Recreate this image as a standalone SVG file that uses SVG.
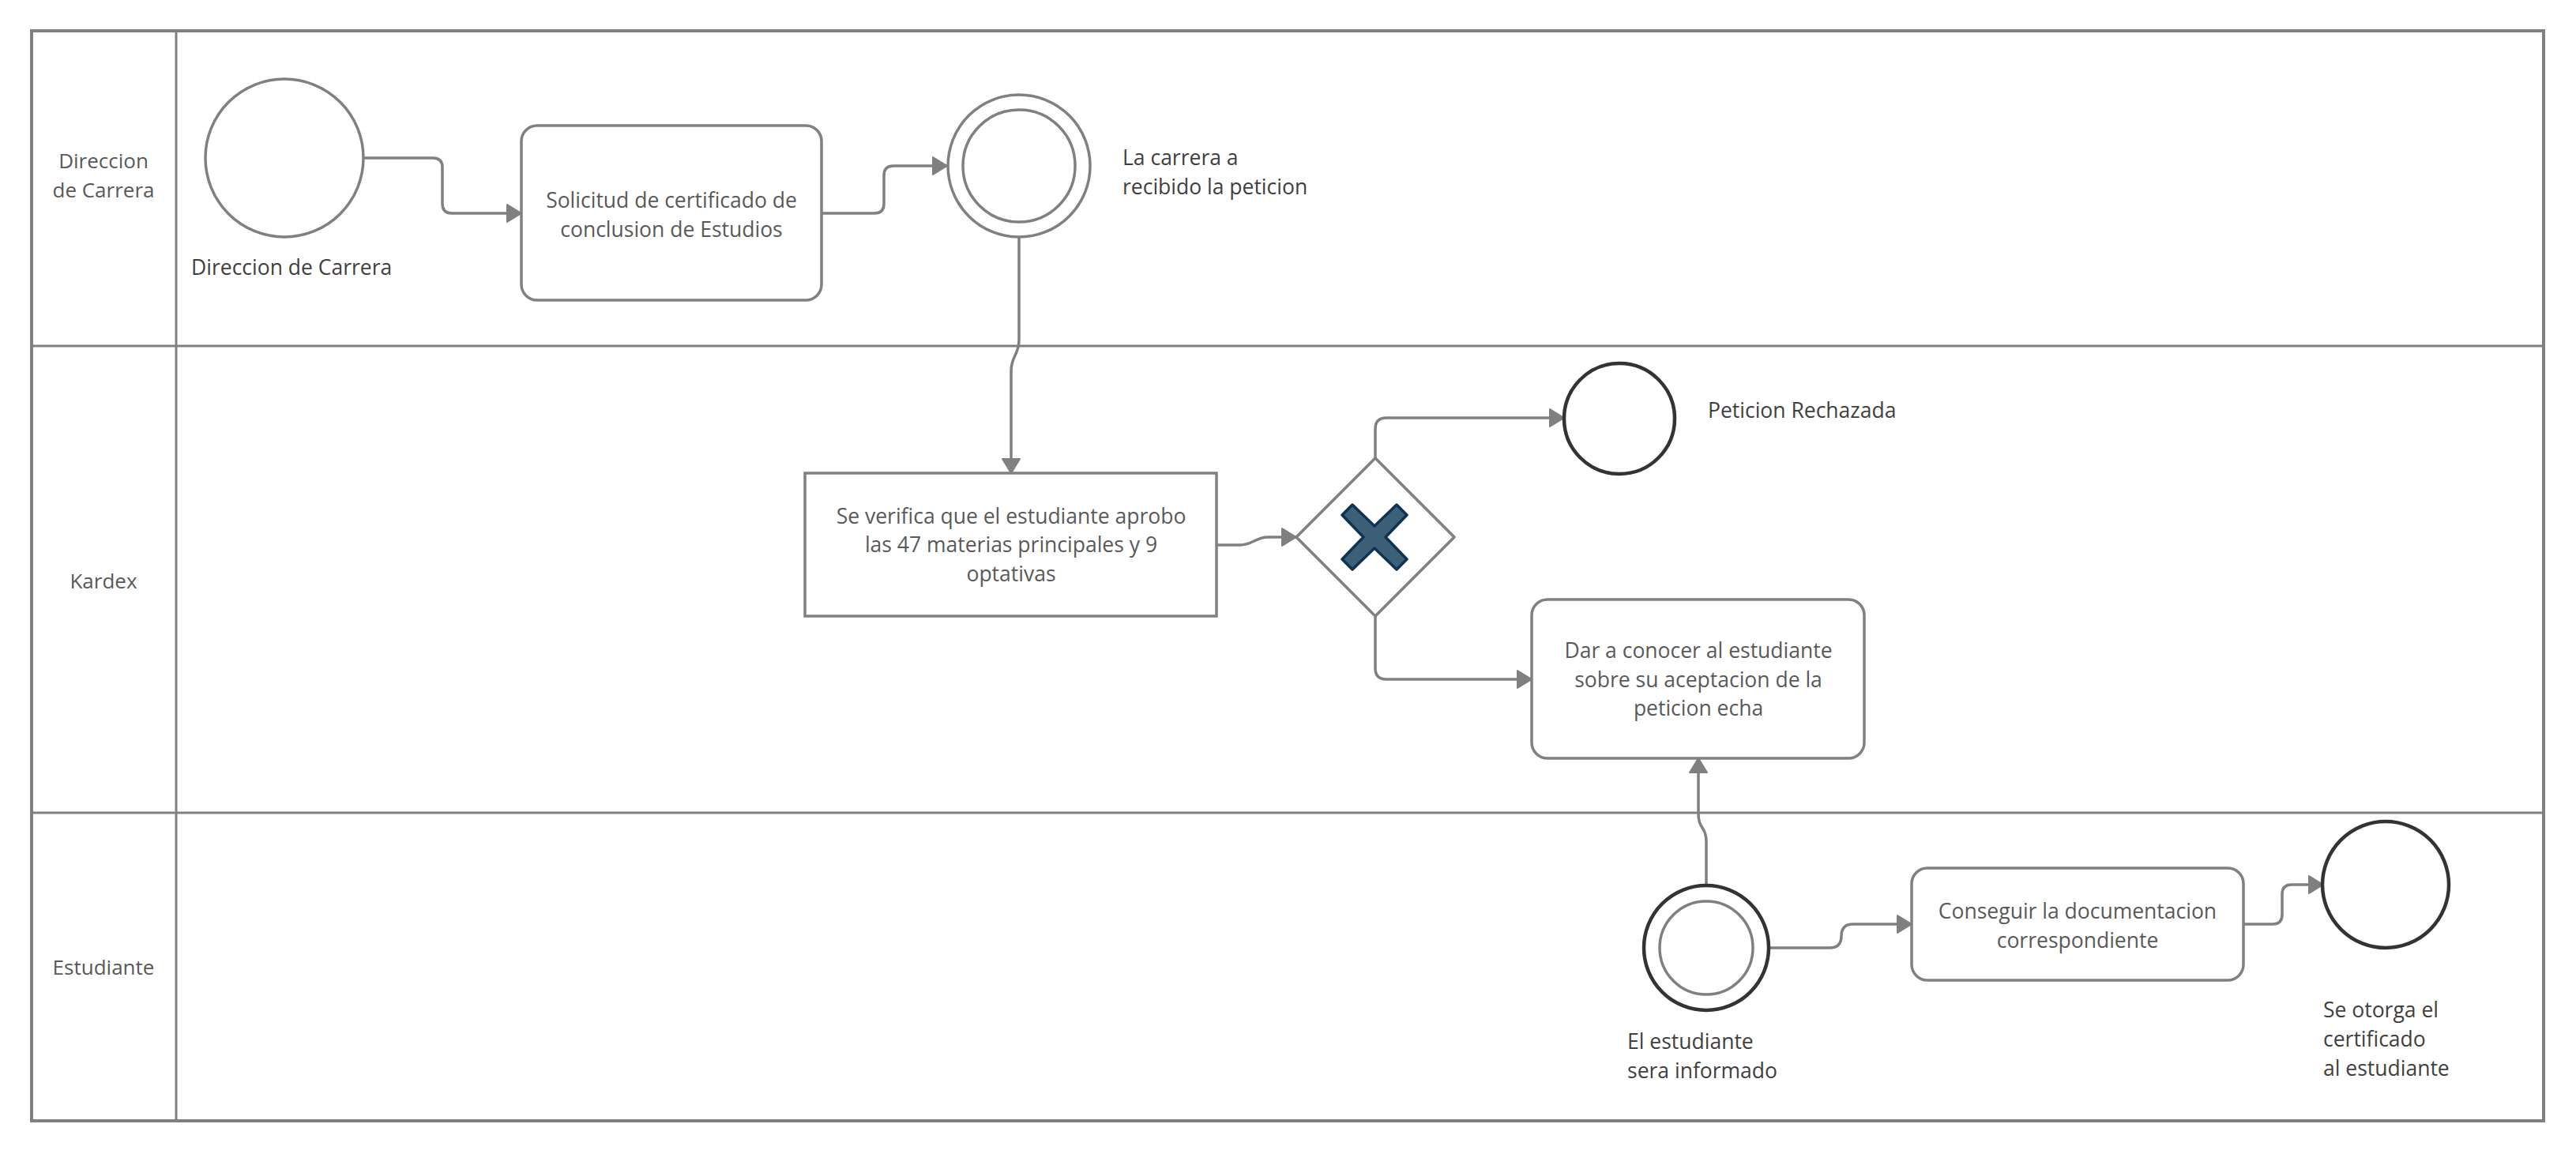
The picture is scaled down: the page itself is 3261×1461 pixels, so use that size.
<svg xmlns="http://www.w3.org/2000/svg" width="3261" height="1461" viewBox="0 0 3261 1461">
<defs>
<style>
.lane{fill:none;stroke:#808080;stroke-width:3}
.frame{fill:none;stroke:#808080;stroke-width:4}
.task{fill:#ffffff;stroke:#808080;stroke-width:3.5}
.ev{fill:#ffffff;stroke:#808080;stroke-width:3.5}
.end{fill:#ffffff;stroke:#333333;stroke-width:4.5}
.conn{fill:none;stroke:#808080;stroke-width:3.5;marker-end:url(#arr)}
.lt{font-family:"Open Sans","Noto Sans",sans-serif;font-size:26px;fill:#595959;text-anchor:middle}
.tt{font-family:"Open Sans","Noto Sans",sans-serif;font-size:26.5px;fill:#595959;text-anchor:middle}
.ol{font-family:"Open Sans","Noto Sans",sans-serif;font-size:26.5px;fill:#404040}
</style>
<marker id="arr" viewBox="0 0 20 24" refX="19" refY="12" markerWidth="20" markerHeight="24" markerUnits="userSpaceOnUse" orient="auto">
<path d="M1,1 L19,12 L1,23 Z" fill="#808080" stroke="#808080" stroke-width="2" stroke-linejoin="round"/>
</marker>
</defs>
<rect width="3261" height="1461" fill="#ffffff"/>
<g id="pool">
<rect class="frame" x="40" y="39" width="3180" height="1380"/>
<line class="lane" x1="223" y1="39" x2="223" y2="1419"/>
<line class="lane" x1="40" y1="438" x2="3220" y2="438"/>
<line class="lane" x1="40" y1="1029" x2="3220" y2="1029"/>
<text class="lt" x="131" y="213">Direccion</text>
<text class="lt" x="131" y="250">de Carrera</text>
<text class="lt" x="131" y="745">Kardex</text>
<text class="lt" x="131" y="1234">Estudiante</text>
</g>
<g id="connectors">
<path class="conn" d="M460,200 H548 Q560,200 560,212 V258 Q560,270 572,270 H660"/>
<path class="conn" d="M1040,270 H1107 Q1119,270 1119,258 V222 Q1119,210 1131,210 H1199"/>
<path class="conn" d="M1290,300 V430 C1290,450 1280,450 1280,470 V599"/>
<path class="conn" d="M1540,690 H1570 C1585,690 1590,680 1605,680 H1641"/>
<path class="conn" d="M1741,580 V543 Q1741,529 1755,529 H1980"/>
<path class="conn" d="M1741,780 V846 Q1741,860 1755,860 H1939"/>
<path class="conn" d="M2160,1119 V1066 C2160,1046 2150,1050 2150,1030 V960"/>
<path class="conn" d="M2238,1200 H2316 Q2331,1200 2331,1185 Q2331,1170 2346,1170 H2420"/>
<path class="conn" d="M2840,1170 H2877 Q2889,1170 2889,1158 V1132 Q2889,1120 2901,1120 H2941"/>
</g>
<g id="start">
<circle class="ev" cx="360" cy="200" r="100"/>
<text class="ol" x="242" y="348">Direccion de Carrera</text>
</g>
<g id="task-solicitud">
<rect class="task" x="660" y="159" width="380" height="221" rx="20"/>
<text class="tt" x="850" y="263">Solicitud de certificado de</text>
<text class="tt" x="850" y="300">conclusion de Estudios</text>
</g>
<g id="event-recibido">
<circle class="ev" cx="1290" cy="210" r="90"/>
<circle class="ev" cx="1290" cy="210" r="71"/>
<text class="ol" x="1421" y="209">La carrera a</text>
<text class="ol" x="1421" y="246">recibido la peticion</text>
</g>
<g id="task-verifica">
<rect class="task" x="1019" y="599" width="521" height="181"/>
<text class="tt" x="1280" y="663">Se verifica que el estudiante aprobo</text>
<text class="tt" x="1280" y="699">las 47 materias principales y 9</text>
<text class="tt" x="1280" y="736">optativas</text>
</g>
<g id="gateway">
<polygon points="1741,580 1841,680 1741,780 1641,680" fill="#ffffff" stroke="#808080" stroke-width="3.5" stroke-linejoin="round"/>
<polygon transform="translate(1740,680)" points="-41,-28 -28,-41 0,-14 28,-41 41,-28 14,0 41,28 28,41 0,14 -28,41 -41,28 -14,0" fill="#3d6079" stroke="#0e3352" stroke-width="3.5" stroke-linejoin="round"/>
</g>
<g id="end-rechazada">
<circle class="end" cx="2050" cy="530" r="70"/>
<text class="ol" x="2162" y="529">Peticion Rechazada</text>
</g>
<g id="task-dar">
<rect class="task" x="1939" y="759" width="421" height="201" rx="20"/>
<text class="tt" x="2150" y="833">Dar a conocer al estudiante</text>
<text class="tt" x="2150" y="870">sobre su aceptacion de la</text>
<text class="tt" x="2150" y="906">peticion echa</text>
</g>
<g id="event-informado">
<circle class="end" cx="2160" cy="1200" r="79"/>
<circle class="ev" cx="2160" cy="1200" r="59"/>
<text class="ol" x="2060" y="1328">El estudiante</text>
<text class="ol" x="2060" y="1365">sera informado</text>
</g>
<g id="task-conseguir">
<rect class="task" x="2420" y="1099" width="420" height="142" rx="20"/>
<text class="tt" x="2630" y="1163">Conseguir la documentacion</text>
<text class="tt" x="2630" y="1200">correspondiente</text>
</g>
<g id="end-otorga">
<circle class="end" cx="3020" cy="1120" r="80"/>
<text class="ol" x="2941" y="1288">Se otorga el</text>
<text class="ol" x="2941" y="1325">certificado</text>
<text class="ol" x="2941" y="1362">al estudiante</text>
</g>
</svg>
